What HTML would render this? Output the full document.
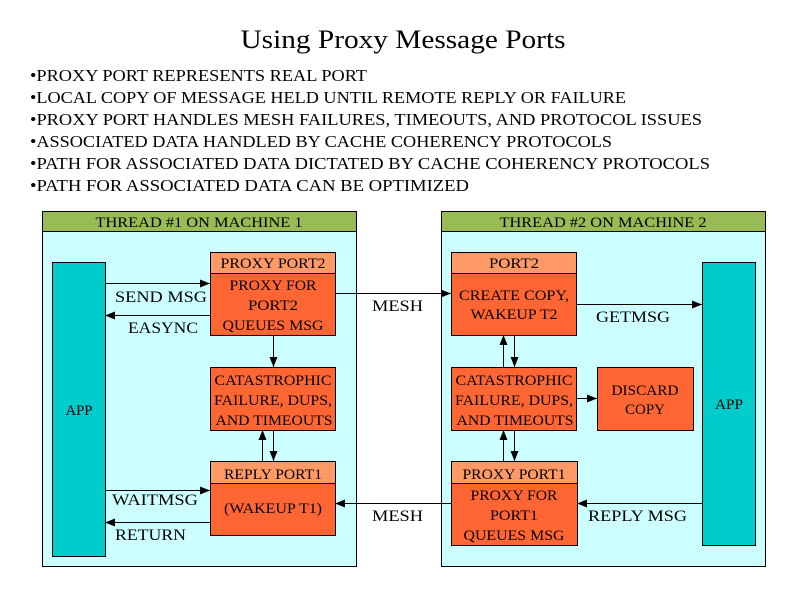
<!DOCTYPE html>
<html><head><meta charset="utf-8"><style>
html,body{margin:0;padding:0;background:#fff;}
svg{display:block;}
text{font-family:"Liberation Serif","DejaVu Serif",serif;fill:#000;}
</style></head><body>
<svg width="800" height="597" viewBox="0 0 800 597" xmlns="http://www.w3.org/2000/svg">
<defs>
<marker id="ar" markerWidth="10" markerHeight="8" refX="10" refY="4" orient="auto" markerUnits="userSpaceOnUse">
<path d="M0,0 L10,4 L0,8 z" fill="#000"/></marker>
</defs>
<text x="403" y="48" font-size="26" text-anchor="middle" textLength="325" lengthAdjust="spacingAndGlyphs">Using Proxy Message Ports</text>
<g font-size="17">
<text x="30" y="81" textLength="337" lengthAdjust="spacingAndGlyphs">•PROXY PORT REPRESENTS REAL PORT</text>
<text x="30" y="103" textLength="596" lengthAdjust="spacingAndGlyphs">•LOCAL COPY OF MESSAGE HELD UNTIL REMOTE REPLY OR FAILURE</text>
<text x="30" y="125" textLength="672" lengthAdjust="spacingAndGlyphs">•PROXY PORT HANDLES MESH FAILURES, TIMEOUTS, AND PROTOCOL ISSUES</text>
<text x="30" y="147" textLength="582" lengthAdjust="spacingAndGlyphs">•ASSOCIATED DATA HANDLED BY CACHE COHERENCY PROTOCOLS</text>
<text x="30" y="169" textLength="680" lengthAdjust="spacingAndGlyphs">•PATH FOR ASSOCIATED DATA DICTATED BY CACHE COHERENCY PROTOCOLS</text>
<text x="30" y="191" textLength="439" lengthAdjust="spacingAndGlyphs">•PATH FOR ASSOCIATED DATA CAN BE OPTIMIZED</text>
</g>
<g stroke="#000" stroke-width="1">
<rect x="42.5" y="211.5" width="314" height="355" fill="#ccffff"/>
<rect x="42.5" y="211.5" width="314" height="20" fill="#99bb55"/>
<rect x="52.5" y="262.5" width="53" height="294" fill="#00cccc"/>
<rect x="210.5" y="252.5" width="125" height="83" fill="#ff6633"/>
<rect x="210.5" y="252.5" width="125" height="21" fill="#ff9966"/>
<rect x="210.5" y="367.5" width="125" height="63" fill="#ff6633"/>
<rect x="210.5" y="461.5" width="125" height="74" fill="#ff6633"/>
<rect x="210.5" y="461.5" width="125" height="22" fill="#ff9966"/>
<rect x="441.5" y="211.5" width="324" height="355" fill="#ccffff"/>
<rect x="441.5" y="211.5" width="324" height="20" fill="#99bb55"/>
<rect x="702.5" y="262.5" width="53" height="283" fill="#00cccc"/>
<rect x="451.5" y="252.5" width="125" height="83" fill="#ff6633"/>
<rect x="451.5" y="252.5" width="125" height="21" fill="#ff9966"/>
<rect x="451.5" y="367.5" width="125" height="63" fill="#ff6633"/>
<rect x="597.5" y="367.5" width="96" height="63" fill="#ff6633"/>
<rect x="451.5" y="461.5" width="126" height="84" fill="#ff6633"/>
<rect x="451.5" y="461.5" width="126" height="22" fill="#ff9966"/>
</g>
<g stroke="#000" stroke-width="1" fill="none" marker-end="url(#ar)">
<line x1="105" y1="283.5" x2="210" y2="283.5"/>
<line x1="210" y1="315.5" x2="105" y2="315.5"/>
<line x1="273.5" y1="335" x2="273.5" y2="367"/>
<line x1="262.5" y1="461" x2="262.5" y2="430"/>
<line x1="273.5" y1="430" x2="273.5" y2="461"/>
<line x1="105" y1="490.5" x2="210" y2="490.5"/>
<line x1="210" y1="522.5" x2="105" y2="522.5"/>
<line x1="335" y1="293.5" x2="451" y2="293.5"/>
<line x1="451" y1="503.5" x2="335" y2="503.5"/>
<line x1="576" y1="304.5" x2="702" y2="304.5"/>
<line x1="702" y1="503.5" x2="577" y2="503.5"/>
<line x1="503.5" y1="367" x2="503.5" y2="335"/>
<line x1="514.5" y1="335" x2="514.5" y2="367"/>
<line x1="503.5" y1="461" x2="503.5" y2="430"/>
<line x1="514.5" y1="430" x2="514.5" y2="461"/>
<line x1="576" y1="398.5" x2="597" y2="398.5"/>
</g>
<g font-size="15" text-anchor="middle" lengthAdjust="spacingAndGlyphs">
<text x="199" y="227" textLength="207" lengthAdjust="spacingAndGlyphs">THREAD #1 ON MACHINE 1</text>
<text x="603" y="227" textLength="207" lengthAdjust="spacingAndGlyphs">THREAD #2 ON MACHINE 2</text>
<text x="79" y="415" textLength="27" lengthAdjust="spacingAndGlyphs">APP</text>
<text x="729" y="409" textLength="28" lengthAdjust="spacingAndGlyphs">APP</text>
<text x="273" y="268" textLength="105" lengthAdjust="spacingAndGlyphs">PROXY PORT2</text>
<text x="273" y="290" textLength="87" lengthAdjust="spacingAndGlyphs">PROXY FOR</text>
<text x="273" y="310" textLength="50" lengthAdjust="spacingAndGlyphs">PORT2</text>
<text x="273" y="330" textLength="101" lengthAdjust="spacingAndGlyphs">QUEUES MSG</text>
<text x="273" y="385" textLength="117" lengthAdjust="spacingAndGlyphs">CATASTROPHIC</text>
<text x="273" y="405" textLength="118" lengthAdjust="spacingAndGlyphs">FAILURE, DUPS,</text>
<text x="274" y="425" textLength="117" lengthAdjust="spacingAndGlyphs">AND TIMEOUTS</text>
<text x="273" y="479" textLength="98" lengthAdjust="spacingAndGlyphs">REPLY PORT1</text>
<text x="273" y="513" textLength="98" lengthAdjust="spacingAndGlyphs">(WAKEUP T1)</text>
<text x="514" y="268" textLength="50" lengthAdjust="spacingAndGlyphs">PORT2</text>
<text x="514" y="300" textLength="110" lengthAdjust="spacingAndGlyphs">CREATE COPY,</text>
<text x="514" y="319" textLength="87" lengthAdjust="spacingAndGlyphs">WAKEUP T2</text>
<text x="514" y="385" textLength="117" lengthAdjust="spacingAndGlyphs">CATASTROPHIC</text>
<text x="514" y="405" textLength="118" lengthAdjust="spacingAndGlyphs">FAILURE, DUPS,</text>
<text x="515" y="425" textLength="117" lengthAdjust="spacingAndGlyphs">AND TIMEOUTS</text>
<text x="645" y="395" textLength="67" lengthAdjust="spacingAndGlyphs">DISCARD</text>
<text x="645" y="414" textLength="40" lengthAdjust="spacingAndGlyphs">COPY</text>
<text x="514" y="479" textLength="103" lengthAdjust="spacingAndGlyphs">PROXY PORT1</text>
<text x="514" y="500" textLength="87" lengthAdjust="spacingAndGlyphs">PROXY FOR</text>
<text x="514" y="520" textLength="48" lengthAdjust="spacingAndGlyphs">PORT1</text>
<text x="514" y="540" textLength="101" lengthAdjust="spacingAndGlyphs">QUEUES MSG</text>
</g>
<g font-size="16">
<text x="115" y="302" textLength="92" lengthAdjust="spacingAndGlyphs">SEND MSG</text>
<text x="128" y="333" textLength="70" lengthAdjust="spacingAndGlyphs">EASYNC</text>
<text x="372" y="311" textLength="51" lengthAdjust="spacingAndGlyphs">MESH</text>
<text x="372" y="521" textLength="51" lengthAdjust="spacingAndGlyphs">MESH</text>
<text x="596" y="322" textLength="74" lengthAdjust="spacingAndGlyphs">GETMSG</text>
<text x="588" y="521" textLength="99" lengthAdjust="spacingAndGlyphs">REPLY MSG</text>
<text x="112" y="505" textLength="86" lengthAdjust="spacingAndGlyphs">WAITMSG</text>
<text x="115" y="540" textLength="71" lengthAdjust="spacingAndGlyphs">RETURN</text>
</g>
</svg>
</body></html>
